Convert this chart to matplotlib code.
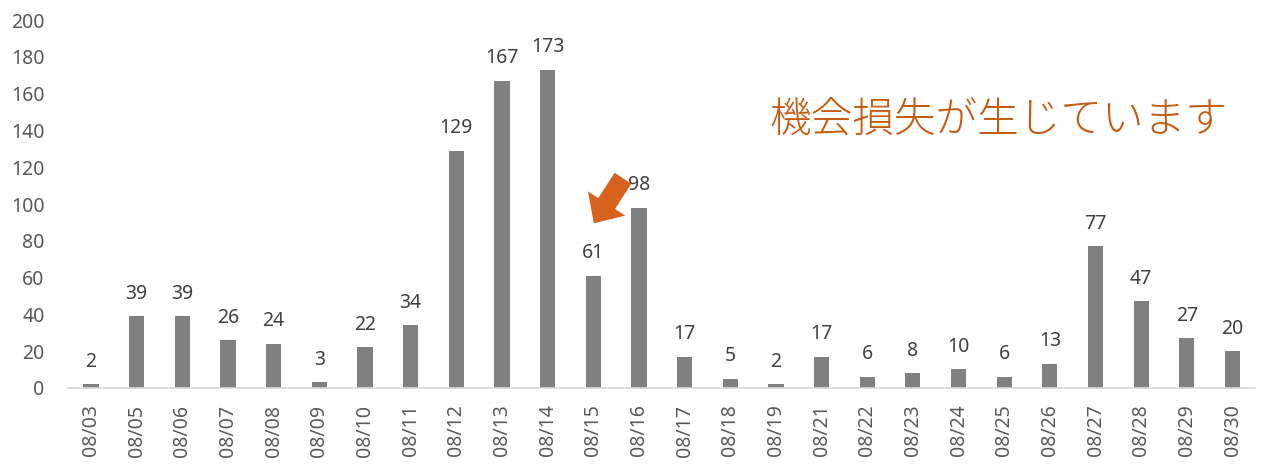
import matplotlib.pyplot as plt

dates = ['08/03', '08/05', '08/06', '08/07', '08/08', '08/09', '08/10',
         '08/11', '08/12', '08/13', '08/14', '08/15', '08/16', '08/17',
         '08/18', '08/19', '08/21', '08/22', '08/23', '08/24', '08/25',
         '08/26', '08/27', '08/28', '08/29', '08/30']
counts = [2, 39, 39, 26, 24, 3, 22, 34, 129, 167, 173, 61, 98, 17,
          5, 2, 17, 6, 8, 10, 6, 13, 77, 47, 27, 20]
note = '機会損失が生じています'

plt.rcParams['font.family'] = ['Noto Sans', 'Noto Sans CJK JP', 'DejaVu Sans']

fig = plt.figure(figsize=(12.63, 4.69), dpi=100)
ax = fig.add_axes([0.054, 0.173, 0.940, 0.784])

x = range(len(dates))
bars = ax.bar(x, counts, width=0.33, color='#808080', zorder=2)
ax.bar_label(bars, padding=9, fontsize=14, color='#404040')

ax.set_xlim(-0.5, len(dates) - 0.5)
ax.set_ylim(0, 200)
ax.set_yticks(range(0, 201, 20))
ax.set_xticks(list(x))
ax.set_xticklabels(dates, rotation=90)
ax.tick_params(axis='both', length=0, labelsize=14, labelcolor='#595959')
ax.tick_params(axis='y', pad=17)
ax.tick_params(axis='x', pad=12)

for s in ['top', 'right', 'left']:
    ax.spines[s].set_visible(False)
ax.spines['bottom'].set_color('#d9d9d9')
ax.spines['bottom'].set_linewidth(1.2)

# arrow pointing at 08/15
ax.annotate('', xy=(11.01, 89.5), xytext=(11.65, 114),
            arrowprops=dict(arrowstyle='simple,head_length=0.85,head_width=1.6,tail_width=0.72',
                            mutation_scale=20, fc='#D6621E', ec='none',
                            shrinkA=0, shrinkB=0))

ax.text(19.87, 145.5, note, fontsize=30, color='#C55A11', fontweight='light',
        family=['Noto Sans CJK JP', 'DejaVu Sans'], ha='center', va='center')

fig.savefig('out.png', dpi=100)
